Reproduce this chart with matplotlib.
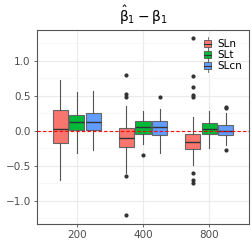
import numpy as np
import matplotlib.pyplot as plt
from matplotlib.patches import Patch
from matplotlib.legend_handler import HandlerPatch
import matplotlib.patches as mpatches

# sample sizes on the x axis
groups = ["200", "400", "800"]
methods = ["SLn", "SLt", "SLcn"]
colors = ["#F8766D", "#00BA38", "#619CFF"]

# box statistics per method, one value per sample size
q1 = {"SLn": [-0.17, -0.23, -0.26], "SLt": [0.01, -0.05, -0.05], "SLcn": [0.01, -0.06, -0.06]}
med = {"SLn": [0.03, -0.10, -0.16], "SLt": [0.12, 0.05, 0.03], "SLcn": [0.12, 0.05, 0.00]}
q3 = {"SLn": [0.30, 0.04, -0.05], "SLt": [0.23, 0.14, 0.11], "SLcn": [0.26, 0.14, 0.08]}
whislo = {"SLn": [-0.70, -0.60, -0.49], "SLt": [-0.32, -0.19, -0.25], "SLcn": [-0.28, -0.31, -0.20]}
whishi = {"SLn": [0.72, 0.36, 0.20], "SLt": [0.55, 0.28, 0.28], "SLcn": [0.57, 0.31, 0.26]}
fliers = {
    "SLn": [[], [0.80, 0.52, 0.48, -0.64, -1.20], [1.32, 0.78, 0.63, 0.51, 0.49, -0.60, -0.70, -0.74]],
    "SLt": [[], [-0.34], []],
    "SLcn": [[], [0.48], [0.34, 0.33, -0.28]],
}


class BoxKey(HandlerPatch):
    def create_artists(self, legend, orig, xd, yd, w, h, fs, trans):
        v = plt.Line2D([xd + w / 2, xd + w / 2], [yd - 2, yd + h + 2], color="#666666", lw=0.6, transform=trans)
        r = mpatches.Rectangle((xd + 1, yd), w - 2, h, facecolor=orig.get_facecolor(),
                               edgecolor="#555555", lw=0.6, transform=trans)
        m = plt.Line2D([xd + 1, xd + w - 1], [yd + h / 2, yd + h / 2], color="#333333", lw=0.8, transform=trans)
        return [v, r, m]


def main():
    fig = plt.figure(figsize=(2.52, 2.52), dpi=100)
    ax = fig.add_axes([0.147, 0.111, 0.841, 0.770])

    dodge = 0.25
    for j, m in enumerate(methods):
        stats = []
        for i in range(len(groups)):
            stats.append(dict(q1=q1[m][i], med=med[m][i], q3=q3[m][i],
                              whislo=whislo[m][i], whishi=whishi[m][i], fliers=fliers[m][i]))
        pos = np.arange(len(groups)) + (j - 1) * dodge
        ax.bxp(stats, positions=pos, widths=0.23, patch_artist=True, showcaps=False,
               boxprops=dict(facecolor=colors[j], edgecolor="#666666", lw=0.8),
               medianprops=dict(color="#333333", lw=1.0),
               whiskerprops=dict(color="#555555", lw=0.8),
               flierprops=dict(marker="o", markersize=2, markerfacecolor="#333333",
                               markeredgecolor="#333333"),
               zorder=3)

    ax.axhline(0, color="red", ls=(0, (3, 2)), lw=0.8, zorder=4)

    ax.set_xlim(-0.6, 2.6)
    ax.set_ylim(-1.33, 1.44)
    ax.set_xticks(range(len(groups)))
    ax.set_xticklabels(groups)
    ax.set_yticks([-1.0, -0.5, 0.0, 0.5, 1.0])
    ax.set_yticklabels(["\u22121.0", "\u22120.5", "0.0", "0.5", "1.0"])
    ax.set_yticks([-1.25, -0.75, -0.25, 0.25, 0.75, 1.25], minor=True)
    ax.tick_params(labelsize=7.5, colors="#4D4D4D", length=2.5, width=0.6, pad=2)
    ax.tick_params(which="minor", length=0)
    ax.grid(True, which="major", color="#EBEBEB", lw=0.8, zorder=0)
    ax.grid(True, which="minor", axis="y", color="#F5F5F5", lw=0.5, zorder=0)
    ax.set_axisbelow(True)
    for s in ax.spines.values():
        s.set_color("#555555")
        s.set_linewidth(0.8)

    ax.set_title(r"$\hat{\mathrm{\beta}}_1 - \mathrm{\beta}_1$", fontsize=10, pad=6)

    handles = [Patch(facecolor=c, label=m) for c, m in zip(colors, methods)]
    ax.legend(handles=handles, handler_map={Patch: BoxKey()}, loc="upper right",
              frameon=False, fontsize=7.5, handlelength=1.0, handleheight=0.7,
              handletextpad=0.4, labelspacing=0.1, borderaxespad=0.3,
              bbox_to_anchor=(1.0, 0.99))

    fig.savefig("out.png", dpi=100)


if __name__ == "__main__":
    main()
